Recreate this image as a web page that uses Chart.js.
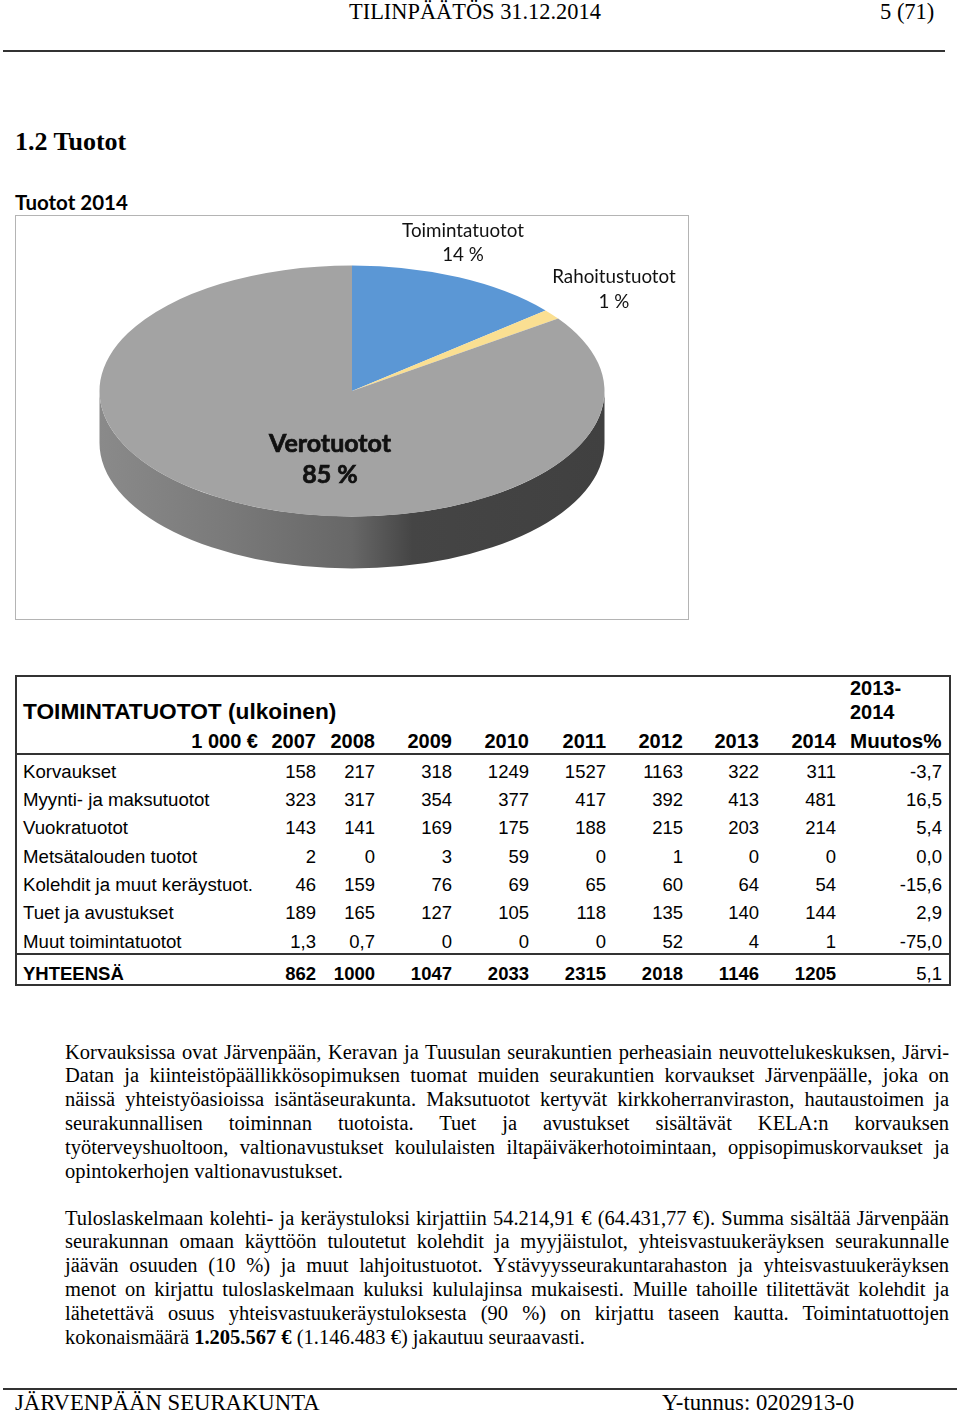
<!DOCTYPE html>
<html>
<head>
<meta charset="utf-8">
<title>Tuotot 2014</title>
<script src="https://cdn.jsdelivr.net/npm/chart.js@4/dist/chart.umd.min.js"></script>
<style>
html, body { margin: 0; padding: 0; background: #fff; }
#page { position: relative; width: 960px; height: 1413px; overflow: hidden; color: #000; font-family: "Liberation Serif", serif; }
#page .t { position: absolute; white-space: nowrap; transform: translateY(-50%); }
#page .j { position: absolute; left: 65px; width: 884px; font-size: 20.5px; word-spacing: -1.5px; text-align: justify; text-align-last: justify; transform: translateY(-50%); white-space: normal; }
#page .l { text-align-last: left; word-spacing: 0; }
#page .rule { position: absolute; background: #222; }
#frame { position: absolute; left: 15px; top: 215px; width: 674px; height: 405px; box-sizing: border-box; border: 1px solid #b4b4b4; }
#pie { position: absolute; left: 15px; top: 215px; }
#tbl { position: absolute; left: 15px; top: 675px; width: 936px; height: 311px; box-sizing: border-box; border: 2px solid #333; }
</style>
</head>
<body>
<div id="page">
  <div id="frame"></div>
  <canvas id="pie" width="674" height="404" style="width:674px;height:404px"></canvas>
  <div id="tbl"></div>
</div>
<script>
// pie
const sliceLabels = ['Toimintatuotot', 'Rahoitustuotot', 'Verotuotot'];
const sliceValues = [13.9, 1.3, 84.8];
const slicePercents = ['14 %', '1 %', '85 %'];
const sliceColors = ['#5b97d5', '#fadf92', '#a3a3a3'];

// table
const years = ['2007', '2008', '2009', '2010', '2011', '2012', '2013', '2014'];
const rowNames = ['Korvaukset', 'Myynti- ja maksutuotot', 'Vuokratuotot', 'Metsätalouden tuotot',
    'Kolehdit ja muut keräystuot.', 'Tuet ja avustukset', 'Muut toimintatuotot'];
const korvaukset = ['158', '217', '318', '1249', '1527', '1163', '322', '311', '-3,7'];
const myynti = ['323', '317', '354', '377', '417', '392', '413', '481', '16,5'];
const vuokra = ['143', '141', '169', '175', '188', '215', '203', '214', '5,4'];
const metsa = ['2', '0', '3', '59', '0', '1', '0', '0', '0,0'];
const kolehdit = ['46', '159', '76', '69', '65', '60', '64', '54', '-15,6'];
const tuet = ['189', '165', '127', '105', '118', '135', '140', '144', '2,9'];
const muut = ['1,3', '0,7', '0', '0', '0', '52', '4', '1', '-75,0'];
const yhteensa = ['862', '1000', '1047', '2033', '2315', '2018', '1146', '1205', '5,1'];

const para1 = [
    'Korvauksissa ovat Järvenpään, Keravan ja Tuusulan seurakuntien perheasiain neuvottelukeskuksen, Järvi-',
    'Datan ja kiinteistöpäällikkösopimuksen tuomat muiden seurakuntien korvaukset Järvenpäälle, joka on',
    'näissä yhteistyöasioissa isäntäseurakunta. Maksutuotot kertyvät kirkkoherranviraston, hautaustoimen ja',
    'seurakunnallisen toiminnan tuotoista. Tuet ja avustukset sisältävät KELA:n korvauksen',
    'työterveyshuoltoon, valtionavustukset koululaisten iltapäiväkerhotoimintaan, oppisopimuskorvaukset ja',
    'opintokerhojen valtionavustukset.'
];
const para2 = [
    'Tuloslaskelmaan kolehti- ja keräystuloksi kirjattiin 54.214,91 € (64.431,77 €). Summa sisältää Järvenpään',
    'seurakunnan omaan käyttöön tuloutetut kolehdit ja myyjäistulot, yhteisvastuukeräyksen seurakunnalle',
    'jäävän osuuden (10 %) ja muut lahjoitustuotot. Ystävyysseurakuntarahaston ja yhteisvastuukeräyksen',
    'menot on kirjattu tuloslaskelmaan kuluksi kululajinsa mukaisesti. Muille tahoille tilitettävät kolehdit ja',
    'lähetettävä osuus yhteisvastuukeräystuloksesta (90 %) on kirjattu taseen kautta. Toimintatuottojen',
    'kokonaismäärä <b>1.205.567 €</b> (1.146.483 €) jakautuu seuraavasti.'
];

const page = document.getElementById('page');
const SANS = '"Liberation Sans", Arial, sans-serif';

function put(text, x, y, font, size, bold, right) {
    const el = document.createElement('div');
    el.className = 't';
    el.textContent = text;
    el.style.top = y + 'px';
    el.style.fontFamily = font;
    el.style.fontSize = size + 'px';
    if (bold) el.style.fontWeight = 'bold';
    if (right) el.style.right = (960 - x) + 'px';
    else el.style.left = x + 'px';
    page.appendChild(el);
}

function rule(x, y, w, h, color) {
    const el = document.createElement('div');
    el.className = 'rule';
    el.style.cssText = 'left:' + x + 'px;top:' + y + 'px;width:' + w + 'px;height:' + h + 'px;background:' + color;
    page.appendChild(el);
}

const SERIF = '"Liberation Serif", serif';
put('TILINPÄÄTÖS 31.12.2014', 349, 12, SERIF, 22.4);
put('5 (71)', 880, 12, SERIF, 22.5);
rule(3, 50, 942, 2, '#333');
put('1.2 Tuotot', 15, 142, SERIF, 26, true);
put('Tuotot 2014', 15, 202, 'Lato, sans-serif', 20.5, true);

// table text
const colRight = [316, 375, 452, 529, 606, 683, 759, 836, 942];
const rowY = [772, 800, 828, 857, 885, 913, 942];
put('TOIMINTATUOTOT (ulkoinen)', 23, 710.5, SANS, 22.7, true);
put('2013-', 850, 688, SANS, 20, true);
put('2014', 850, 712, SANS, 20, true);
put('1 000 €', 258, 741, SANS, 20, true, true);
years.forEach((y, i) => put(y, colRight[i], 741, SANS, 20, true, true));
put('Muutos%', 850, 741, SANS, 20.6, true);
[korvaukset, myynti, vuokra, metsa, kolehdit, tuet, muut].forEach((row, r) => {
    put(rowNames[r], 23, rowY[r], SANS, 18.65);
    row.forEach((v, i) => put(v, colRight[i], rowY[r], SANS, 18.5, false, true));
});
put('YHTEENSÄ', 23, 973.5, SANS, 18.5, true);
yhteensa.forEach((v, i) => put(v, colRight[i], 973.5, SANS, 18.5, i < 8, true));
rule(15, 753, 936, 2, '#333');
rule(15, 953, 936, 2, '#333');

// body text
function lines(list, startY) {
    list.forEach((txt, i) => {
        const el = document.createElement('div');
        el.className = 'j' + (i === list.length - 1 ? ' l' : '');
        el.innerHTML = txt;
        el.style.top = (startY + i * 23.8) + 'px';
        page.appendChild(el);
    });
}
lines(para1, 1051.5);
lines(para2, 1217.5);

rule(3, 1388, 954, 2, '#333');
put('JÄRVENPÄÄN SEURAKUNTA', 15, 1403, SERIF, 22.7);
put('Y-tunnus: 0202913-0', 662, 1403, SERIF, 22.7);

// squashes the flat pie into an ellipse and puts the rim under it
const RX = 252.5, RY = 125.5, DEPTH = 52;
const tiltPlugin = {
    id: 'tilt',
    beforeDatasetsDraw(chart) {
        const arc = chart.getDatasetMeta(0).data[0];
        const ctx = chart.ctx, cx = arc.x, cy = arc.y, R = arc.outerRadius;
        const g = ctx.createLinearGradient(cx - RX, 0, cx + RX, 0);
        g.addColorStop(0, '#8a8a8a');
        g.addColorStop(0.25, '#7a7a7a');
        g.addColorStop(0.5, '#676767');
        g.addColorStop(0.62, '#454545');
        g.addColorStop(1, '#404040');
        ctx.save();
        ctx.beginPath();
        ctx.ellipse(cx, cy, RX, RY, 0, Math.PI, 0, true);
        ctx.lineTo(cx + RX, cy + DEPTH);
        ctx.ellipse(cx, cy + DEPTH, RX, RY, 0, 0, Math.PI, false);
        ctx.closePath();
        ctx.fillStyle = g;
        ctx.fill();
        ctx.translate(cx, cy);
        ctx.scale(RX / R, RY / R);
        ctx.translate(-cx, -cy);
    },
    afterDatasetsDraw(chart) {
        const ctx = chart.ctx;
        ctx.restore();
        ctx.save();
        ctx.fillStyle = '#111';
        ctx.strokeStyle = '#111';
        ctx.textAlign = 'center';
        ctx.textBaseline = 'middle';
        ctx.font = '18.8px Lato, sans-serif';
        ctx.fillText(sliceLabels[0], 448, 16);
        ctx.fillText(slicePercents[0], 448, 40);
        ctx.fillText(sliceLabels[1], 599, 62);
        ctx.fillText(slicePercents[1], 599, 87);
        ctx.font = 'bold 25px Lato, sans-serif';
        ctx.lineWidth = 0.7;
        ctx.fillText(sliceLabels[2], 315, 229);
        ctx.strokeText(sliceLabels[2], 315, 229);
        ctx.fillText(slicePercents[2], 315, 260);
        ctx.strokeText(slicePercents[2], 315, 260);
        ctx.restore();
    }
};

new Chart(document.getElementById('pie'), {
    type: 'pie',
    data: {
        labels: sliceLabels,
        datasets: [{
            data: sliceValues,
            backgroundColor: sliceColors,
            borderWidth: 0,
            clip: false
        }]
    },
    options: {
        responsive: false,
        animation: false,
        layout: { padding: { bottom: 52 } },
        plugins: {
            legend: { display: false },
            title: { display: false },
            tooltip: { enabled: false }
        }
    },
    plugins: [tiltPlugin]
});
</script>
</body>
</html>
